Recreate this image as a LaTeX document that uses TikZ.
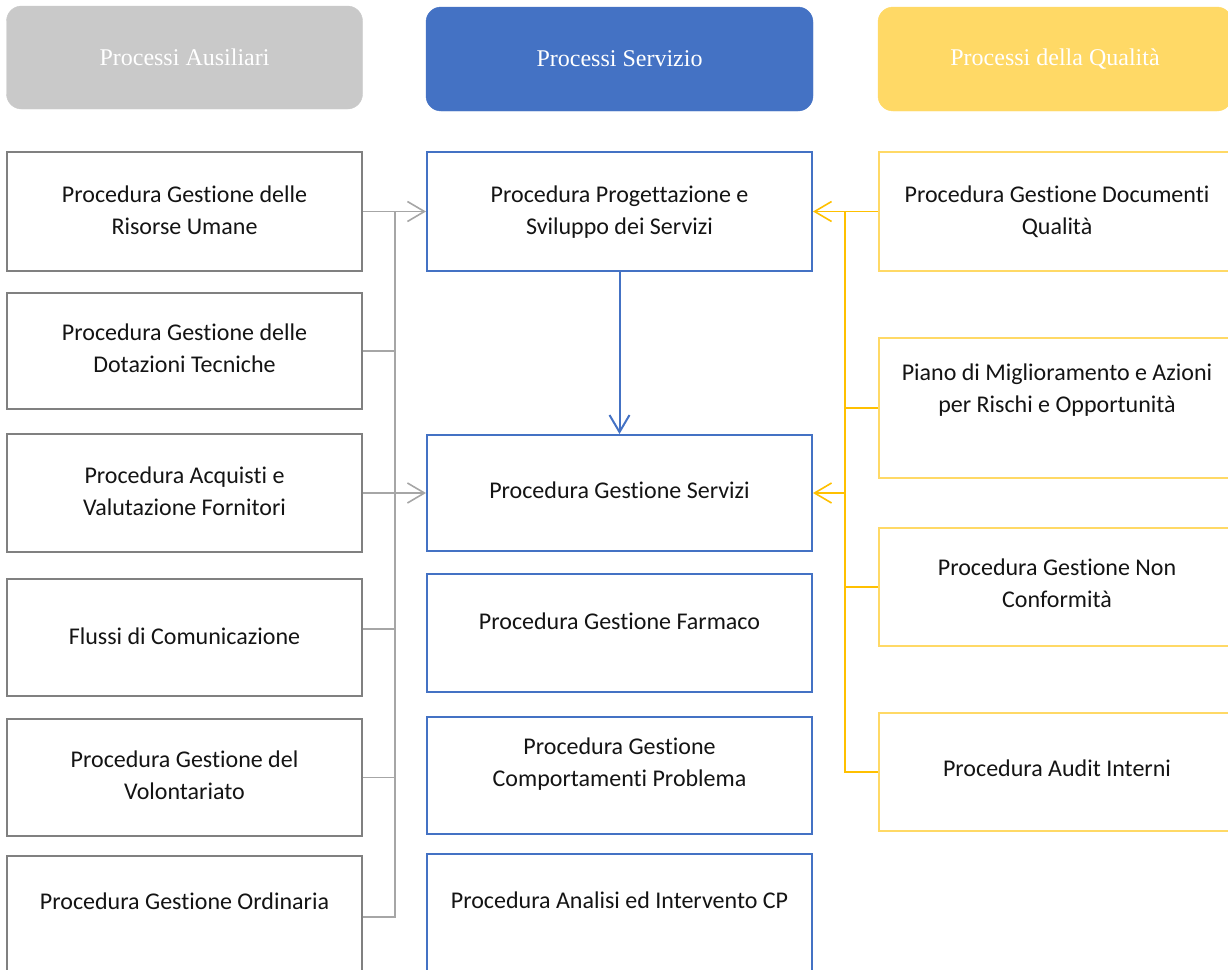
\documentclass[tikz,border=0pt]{standalone}
\usepackage{fontspec}
\setmainfont{Carlito}[Ligatures={NoCommon}]
\newfontfamily\hdfont{Liberation Serif}
\usetikzlibrary{arrows.meta,calc}
\definecolor{hgray}{RGB}{201,201,201}
\definecolor{hblue}{RGB}{68,114,196}
\definecolor{hyel}{RGB}{255,217,102}
\definecolor{bgray}{RGB}{128,128,128}
\definecolor{cgray}{RGB}{166,166,166}
\definecolor{cyel}{RGB}{255,192,0}
\newcommand\bxt[2]{\raisebox{\dimexpr #1pt - 6.6pt\relax}[0pt][0pt]{\begin{tabular}{@{}c@{}}#2\end{tabular}}}
\tikzset{
  head/.style={rounded corners=15pt, inner sep=0pt, text=white,
    font={\hdfont\fontsize{24}{30}\selectfont}},
  pbox/.style={draw, line width=2pt, fill=white, inner sep=0pt,
    font={\fontsize{24}{32}\selectfont}, text=black!92},
  lbox/.style={pbox, draw=bgray, minimum width=355pt},
  bbox/.style={pbox, draw=hblue, minimum width=385pt},
  ybox/.style={pbox, draw=hyel, minimum width=356pt},
  gconn/.style={draw=cgray, line width=1.6pt},
  bconn/.style={draw=hblue, line width=2pt},
  yconn/.style={draw=cyel, line width=1.6pt},
  tip/.style={-{Straight Barb[length=17pt,width=20pt]}}
}
\begin{document}
\begin{tikzpicture}[x=1pt,y=-1pt]
\useasboundingbox (0,0) rectangle (1228,969);
\clip (0,0) rectangle (1228,969);
% headers
\node[head, fill=hgray, draw=hgray, minimum width=356pt, minimum height=103pt] (h1) at (184.5,57.5) {Processi Ausiliari};
\node[head, fill=hblue, draw=hblue, minimum width=387pt, minimum height=104pt] (h2) at (619.5,59) {Processi Servizio};
\node[head, fill=hyel, draw=hyel, minimum width=354pt, minimum height=104pt] (h3) at (1055,59) {Processi della Qualità};
% left column
\node[lbox, minimum height=119pt] (l1) at (184.5,211.5) {\bxt{0}{Procedura Gestione delle\\Risorse Umane}};
\node[lbox, minimum height=116pt] (l2) at (184.5,351) {\bxt{1}{Procedura Gestione delle\\Dotazioni Tecniche}};
\node[lbox, minimum height=118pt] (l3) at (184.5,493) {\bxt{0}{Procedura Acquisti e\\Valutazione Fornitori}};
\node[lbox, minimum height=117pt] (l4) at (184.5,637.5) {\bxt{0}{Flussi di Comunicazione}};
\node[lbox, minimum height=117pt] (l5) at (184.5,777.5) {\bxt{1}{Procedura Gestione del\\Volontariato}};
\node[lbox, minimum height=122pt] (l6) at (184.5,917) {\bxt{14}{Procedura Gestione Ordinaria}};
% middle column
\node[bbox, minimum height=119pt] (b1) at (619.5,211.5) {\bxt{0}{Procedura Progettazione e\\Sviluppo dei Servizi}};
\node[bbox, minimum height=116pt] (b2) at (619.5,493) {\bxt{1}{Procedura Gestione Servizi}};
\node[bbox, minimum height=118pt] (b3) at (619.5,633) {\bxt{10}{Procedura Gestione Farmaco}};
\node[bbox, minimum height=117pt] (b4) at (619.5,775.5) {\bxt{12}{Procedura Gestione\\Comportamenti Problema}};
\node[bbox, minimum height=124pt] (b5) at (619.5,916) {\bxt{14}{Procedura Analisi ed Intervento CP}};
% right column
\node[ybox, minimum height=119pt] (y1) at (1057,211.5) {\bxt{0}{Procedura Gestione Documenti\\Qualità}};
\node[ybox, minimum height=140pt] (y2) at (1057,408) {\bxt{18}{Piano di Miglioramento e Azioni\\per Rischi e Opportunità}};
\node[ybox, minimum height=118pt] (y3) at (1057,587) {\bxt{2}{Procedura Gestione Non\\Conformità}};
\node[ybox, minimum height=118pt] (y4) at (1057,772) {\bxt{2}{Procedura Audit Interni}};
% trunk positions
\coordinate (gx) at (395,0);
\coordinate (yx) at (845,0);
% gray connectors
\draw[gconn] (l1.east -| gx) -- (l6.east -| gx) -- (l6.east);
\draw[gconn] (l2.east) -- (l2.east -| gx);
\draw[gconn] ([yshift=8.5pt]l4.east) -- ([yshift=8.5pt]l4.east -| gx);
\draw[gconn] (l5.east) -- (l5.east -| gx);
\draw[gconn, tip] (l1.east) -- (b1.west);
\draw[gconn, tip] (l3.east) -- (b2.west);
% blue connector
\draw[bconn, tip] (b1.south) -- (b2.north);
% yellow connectors
\draw[yconn] (y1.west -| yx) -- (y4.west -| yx) -- (y4.west);
\draw[yconn] (y2.west) -- (y2.west -| yx);
\draw[yconn] (y3.west) -- (y3.west -| yx);
\draw[yconn, tip] (y1.west) -- (b1.east);
\draw[yconn, tip] (b2.east -| yx) -- (b2.east);
\end{tikzpicture}
\end{document}
